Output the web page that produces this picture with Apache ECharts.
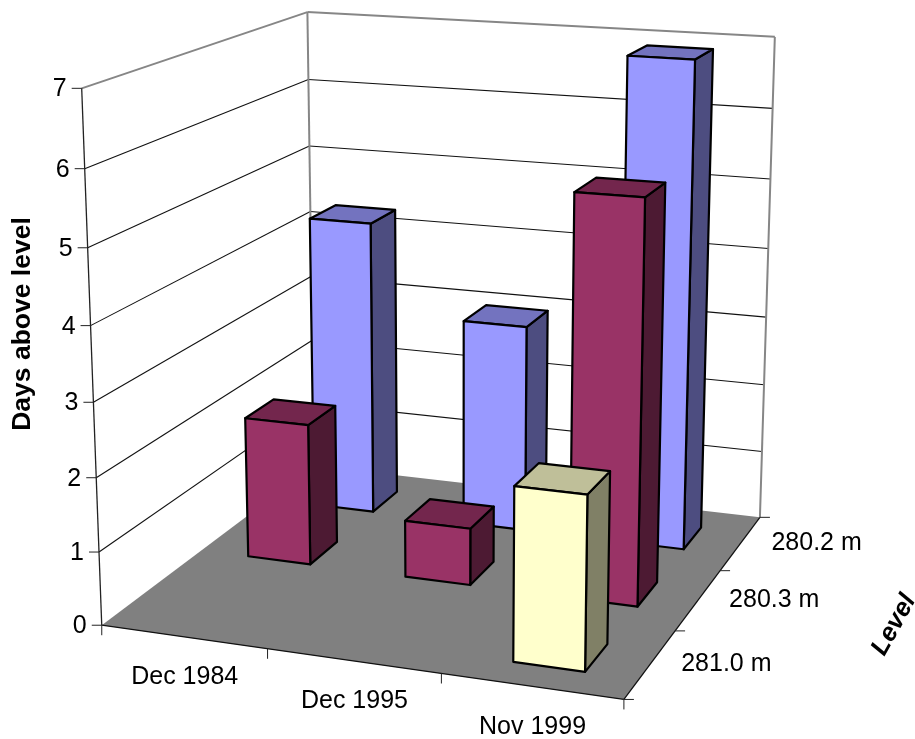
<!DOCTYPE html>
<html>
<head>
<meta charset="utf-8">
<style>html,body{margin:0;padding:0;background:#fff}#chart{width:915px;height:739px}</style>
<script src="https://cdn.jsdelivr.net/npm/echarts@6/dist/echarts.min.js"></script>
</head>
<body>
<div id="chart"></div>
<script>
// Chart content
const periods = ['Dec 1984', 'Dec 1995', 'Nov 1999'];
const levels = ['281.0 m', '280.3 m', '280.2 m'];           // front row to back row
const dayTicks = [0, 1, 2, 3, 4, 5, 6, 7];
const days2802 = [4.3, 3.0, 6.9];
const days2803 = [2, 0.8, 5.5];
const days2810 = [null, null, 2.3];
const valueTitle = 'Days above level';
const depthTitle = 'Level';

// Face colours for each row: front, top, side
const palette2802 = ['#9999FF', '#7373BF', '#4D4D80'];
const palette2803 = ['#993366', '#73264D', '#4D1A33'];
const palette2810 = ['#FFFFCC', '#BFBF99', '#808066'];

// Camera calibration: box position [period, days, level] seen at canvas [x, y]
const cameraAnchors = [
  [0,7,0, 81.7,89], [0,6,0, 85,169], [0,5,0, 87.3,247], [0,3,0, 93.3,402.7],
  [0,2,0, 95.7,477.3], [0,1,0, 99.3,551], [0,0,0, 101.7,625.7],
  [0,7,3, 307.3,11.7], [0,6,3, 308.3,79.7], [0,5,3, 309.7,145.7], [0,4,3, 310.5,212],
  [3,7,3, 776,37.3], [3,6,3, 772.3,107.3], [3,5,3, 770,179], [3,4,3, 767.3,249], [3,0,3, 760,517.3],
  [1,0,0, 267.7,649], [2,0,0, 441.7,674], [3,0,0, 623.3,699],
  [3,0,1, 676,631], [3,0,2, 720,570.7]
];

// Least-squares direct linear transform for a 3x4 projection matrix
function solveCamera(anchors) {
  const n = 11;
  const A = Array.from({length: n}, () => new Array(n + 1).fill(0));
  const addRow = (row, rhs) => {
    for (let i = 0; i < n; i++) {
      for (let j = 0; j < n; j++) A[i][j] += row[i] * row[j];
      A[i][n] += row[i] * rhs;
    }
  };
  anchors.forEach(([x, y, z, u, v]) => {
    addRow([x, y, z, 1, 0, 0, 0, 0, -u * x, -u * y, -u * z], u);
    addRow([0, 0, 0, 0, x, y, z, 1, -v * x, -v * y, -v * z], v);
  });
  for (let c = 0; c < n; c++) {
    let p = c;
    for (let r = c + 1; r < n; r++) if (Math.abs(A[r][c]) > Math.abs(A[p][c])) p = r;
    [A[c], A[p]] = [A[p], A[c]];
    for (let r = 0; r < n; r++) {
      if (r === c) continue;
      const f = A[r][c] / A[c][c];
      for (let k = c; k <= n; k++) A[r][k] -= f * A[c][k];
    }
  }
  return A.map((row, i) => row[n] / row[i]);
}
const cam = solveCamera(cameraAnchors);
function project(x, y, z) {
  const d = cam[8] * x + cam[9] * y + cam[10] * z + 1;
  return [
    (cam[0] * x + cam[1] * y + cam[2] * z + cam[3]) / d,
    (cam[4] * x + cam[5] * y + cam[6] * z + cam[7]) / d
  ];
}

const barStart = 0.305, barEnd = 0.705;   // column extent within a period cell
const rowStart = 0.28, rowEnd = 0.69;     // column extent within a level row
const maxDays = dayTicks[dayTicks.length - 1];

// Reads a [period, days] pair through the hidden cartesian axes, back into box units
function boxCoords(api, coordSys, period, days) {
  const p = api.coord([period, days]);
  const band = api.size([1, 0])[0];
  return [
    (p[0] - coordSys.x) / band,
    (coordSys.y + coordSys.height - p[1]) / coordSys.height * maxDays
  ];
}

function face(points, fill, stroke, width) {
  return {
    type: 'polygon',
    shape: {points},
    style: {fill, stroke: stroke || null, lineWidth: width || 0, lineJoin: 'round'},
    silent: true
  };
}
function segment(a, b, color, width) {
  return {
    type: 'line',
    shape: {x1: a[0], y1: a[1], x2: b[0], y2: b[1]},
    style: {stroke: color, lineWidth: width},
    silent: true
  };
}
function label(text, x, y, opts) {
  return Object.assign({
    type: 'text', x, y, silent: true,
    style: Object.assign({
      text, fill: '#000', fontFamily: '"Liberation Sans", Arial, sans-serif', fontSize: 25,
      align: 'center', verticalAlign: 'middle'
    }, opts && opts.style)
  }, opts && opts.props);
}

// Walls, floor, gridlines, ticks and all axis text
function renderFrame() {
  const kids = [];
  const grey = '#868686';
  kids.push(face([project(0,0,0), project(3,0,0), project(3,0,3), project(0,0,3)], '#808080'));
  dayTicks.forEach(t => {
    const c = t === maxDays ? grey : '#111';
    if (t > 0) {
      kids.push(segment(project(0,t,0), project(0,t,3), c, t === maxDays ? 2 : 1.1));
      kids.push(segment(project(0,t,3), project(3,t,3), c, t === maxDays ? 2 : 1.1));
    }
  });
  kids.push(segment(project(0,0,3), project(0,maxDays,3), grey, 2));
  kids.push(segment(project(3,0,3), project(3,maxDays,3), grey, 2));
  kids.push(segment(project(0,0,0), project(0,maxDays,0), '#222', 1.3));
  kids.push(segment(project(0,0,0), project(3,0,0), '#111', 1.3));
  kids.push(segment(project(3,0,0), project(3,0,3), '#111', 1.3));

  dayTicks.forEach(t => {
    const p = project(0, t, 0);
    kids.push(segment([p[0] - 10, p[1]], p, '#222', 1));
    kids.push(label(String(t), p[0] - 15, p[1] + 1, {style: {align: 'right'}}));
  });
  for (let i = 0; i <= periods.length; i++) {
    const p = project(i, 0, 0);
    kids.push(segment(p, [p[0], p[1] + 10], '#222', 1));
  }
  periods.forEach((name, i) => {
    const p = project(i + 0.5, 0, 0);
    kids.push(label(name, p[0] + 1, p[1] + 40.5));
  });
  for (let i = 0; i <= levels.length; i++) {
    const p = project(3, 0, i);
    kids.push(segment(p, [p[0] + 10, p[1]], '#222', 1));
  }
  levels.forEach((name, i) => {
    const p = project(3, 0, i + 0.5);
    kids.push(label(name, p[0] + 76, p[1]));
  });
  kids.push(label(valueTitle, 23, 324, {
    props: {rotation: Math.PI / 2},
    style: {fontWeight: 'bold', fontSize: 26.5}
  }));
  kids.push(label(depthTitle, 894, 625, {
    props: {rotation: 61 * Math.PI / 180},
    style: {fontWeight: 'bold', fontStyle: 'italic', fontSize: 25.5}
  }));
  return {type: 'group', children: kids};
}

// One column: faces built from the period and value on its row
function columnRenderer(row, colours) {
  return function (params, api) {
    const period = api.value(0);
    const [u, top] = boxCoords(api, params.coordSys, period, api.value(1));
    const cell = Math.floor(u);
    const x0 = cell + barStart, x1 = cell + barEnd;
    const z0 = row + rowStart, z1 = row + rowEnd;
    const ink = '#000', w = 2.2;
    return {
      type: 'group',
      children: [
        face([project(x1,0,z0), project(x1,0,z1), project(x1,top,z1), project(x1,top,z0)], colours[2], ink, w),
        face([project(x0,top,z0), project(x1,top,z0), project(x1,top,z1), project(x0,top,z1)], colours[1], ink, w),
        face([project(x0,0,z0), project(x1,0,z0), project(x1,top,z0), project(x0,top,z0)], colours[0], ink, w)
      ]
    };
  };
}
function rowData(values) {
  return values.map((v, i) => [i, v]).filter(d => d[1] !== null);
}
function rowSeries(name, row, values, colours) {
  return {
    type: 'custom', name, silent: true, clip: false,
    encode: {x: 0, y: 1},
    renderItem: columnRenderer(row, colours),
    data: rowData(values)
  };
}

const chart = echarts.init(document.getElementById('chart'), null, {renderer: 'canvas'});
chart.setOption({
  animation: false,
  backgroundColor: '#fff',
  tooltip: {show: false},
  grid: {left: 100, top: 60, width: 600, height: 600},
  xAxis: {type: 'category', data: periods, show: false},
  yAxis: {type: 'value', min: 0, max: maxDays, show: false},
  series: [
    {type: 'custom', name: 'frame', silent: true, clip: false, renderItem: renderFrame, data: [[0, 0]], encode: {x: 0, y: 1}},
    rowSeries(levels[2], 2, days2802, palette2802),
    rowSeries(levels[1], 1, days2803, palette2803),
    rowSeries(levels[0], 0, days2810, palette2810)
  ]
});
</script>
</body>
</html>
